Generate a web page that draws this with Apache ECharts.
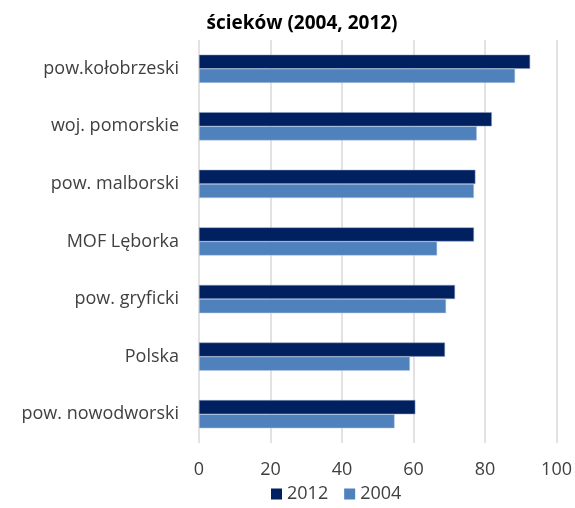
<!DOCTYPE html>
<html><head><meta charset="utf-8">
<script src="https://cdn.jsdelivr.net/npm/echarts@6/dist/echarts.min.js"></script>
<style>html,body{margin:0;padding:0;background:#fff}#c{width:575px;height:508px}</style>
</head><body><div id="c"></div>
<script>
const categories = ["pow.kołobrzeski","woj. pomorskie","pow. malborski","MOF Lęborka","pow. gryficki","Polska","pow. nowodworski"];
const values2012 = [92.6, 81.9, 77.3, 76.9, 71.6, 68.8, 60.5];
const values2004 = [88.4, 77.7, 76.9, 66.6, 69.1, 59.0, 54.7];
const xTicks = {min: 0, max: 100, interval: 20};
const titleText = "ścieków (2004, 2012)";

const font = "'Open Sans', 'Liberation Sans', sans-serif";
const chart = echarts.init(document.getElementById('c'));
chart.setOption({
  animation: false,
  title: {text: titleText, left: 297, top: 9, textAlign: 'center',
    textStyle: {fontFamily: font, fontSize: 19, fontWeight: 'bold', color: '#000'}},
  legend: {bottom: 0, left: 266, itemWidth: 11, itemHeight: 11, itemGap: 16, icon: 'rect',
    itemStyle: {borderWidth: 0},
    textStyle: {fontFamily: font, fontSize: 18, color: '#404040'},
    data: ['2012','2004']},
  grid: {left: 199, right: 18, top: 40, bottom: 65, containLabel: false},
  xAxis: {type: 'value', min: xTicks.min, max: xTicks.max, interval: xTicks.interval,
    axisLine: {show: false}, axisTick: {show: false},
    splitLine: {lineStyle: {color: '#d9d9d9', width: 1.5}},
    axisLabel: {fontFamily: font, fontSize: 18, color: '#404040', margin: 18}},
  yAxis: {type: 'category', data: categories, inverse: true,
    axisLine: {show: false}, axisTick: {show: false},
    axisLabel: {fontFamily: font, fontSize: 18, color: '#404040', margin: 20}},
  series: [
    {name: '2012', type: 'bar', data: values2012, barGap: '0%', barCategoryGap: '51%',
      itemStyle: {color: '#002060', borderColor: '#8ea3c8', borderWidth: 0.5}},
    {name: '2004', type: 'bar', data: values2004,
      itemStyle: {color: '#4f81bd', borderColor: '#b8cce4', borderWidth: 0.5}}
  ]
});
</script></body></html>
